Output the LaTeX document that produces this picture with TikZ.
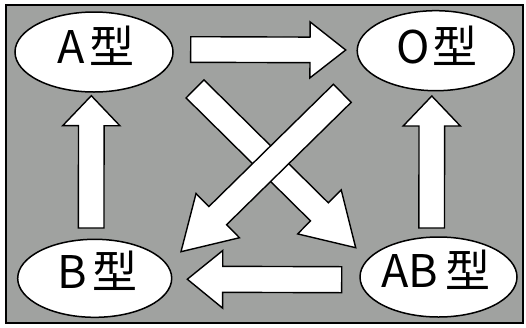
\documentclass[tikz,border=0pt]{standalone}
\usepackage{fontspec}
\setmainfont{Noto Sans CJK JP}
\usetikzlibrary{calc,shapes.geometric}
\definecolor{bggray}{RGB}{160,162,160}
\tikzset{
  blob/.style={draw=black, line width=1.5pt, fill=white, ellipse, inner sep=0pt},
  lbl/.style={anchor=base, inner sep=0pt, font=\fontsize{45}{45}\selectfont},
  blockstyle/.style={draw=black, line width=1.4pt, fill=white, line join=miter},
}
\newcommand{\blockarrow}[5]{%
  \path ($(#2)!#5!(#1)$) coordinate (ba);
  \draw[blockstyle] ($(#1)!#3!90:(#2)$) -- ($(ba)!#3!90:(#2)$) -- ($(ba)!#4!90:(#2)$)
    -- (#2) -- ($(ba)!#4!-90:(#2)$) -- ($(ba)!#3!-90:(#2)$) -- ($(#1)!#3!-90:(#2)$) -- cycle;
}
\begin{document}
\begin{tikzpicture}[x=1pt,y=-1pt]
\useasboundingbox (0,0) rectangle (526,327);
\draw[line width=2pt, fill=bggray] (6,5) rectangle (523,322.5);
% ellipses
\node[blob, minimum width=158pt, minimum height=80pt] (A) at (94,52) {};
\node[blob, minimum width=157pt, minimum height=80pt] (O) at (435.7,50.7) {};
\node[blob, minimum width=154pt, minimum height=78pt] (B) at (94.7,278.3) {};
\node[blob, minimum width=157pt, minimum height=80pt] (AB) at (438.5,277) {};
\node[lbl] (At) at (96,63) {A\kern5pt 型};
\node[lbl] (Ot) at (436.8,63.5) {O\kern3pt 型};
\node[lbl] (Bt) at (97.3,288) {B\kern5pt 型};
\node[lbl] (ABt) at (435.8,287) {AB\kern7pt 型};
% arrow endpoints
\coordinate (a1t) at (190.7,49.5); \coordinate (a1h) at (345.7,50);
\coordinate (a2t) at (91.2,228);   \coordinate (a2h) at (91.3,95.7);
\coordinate (a3t) at (431.7,228);  \coordinate (a3h) at (431.8,96);
\coordinate (a4t) at (341.7,279.7); \coordinate (a4h) at (187.3,279.2);
\coordinate (a5t) at (195,88.9);   \coordinate (a5h) at (355.7,247.7);
\coordinate (a6t) at (342.3,93.3); \coordinate (a6h) at (181,251.7);
\blockarrow{a1t}{a1h}{12.8pt}{28pt}{35.7pt}
\blockarrow{a2t}{a2h}{12.8pt}{28.6pt}{30pt}
\blockarrow{a3t}{a3h}{12.8pt}{28.6pt}{30pt}
\blockarrow{a4t}{a4h}{13pt}{28.8pt}{35.4pt}
\blockarrow{a5t}{a5h}{12.7pt}{31pt}{51pt}
\blockarrow{a6t}{a6h}{12.7pt}{31pt}{51.5pt}
\end{tikzpicture}
\end{document}
